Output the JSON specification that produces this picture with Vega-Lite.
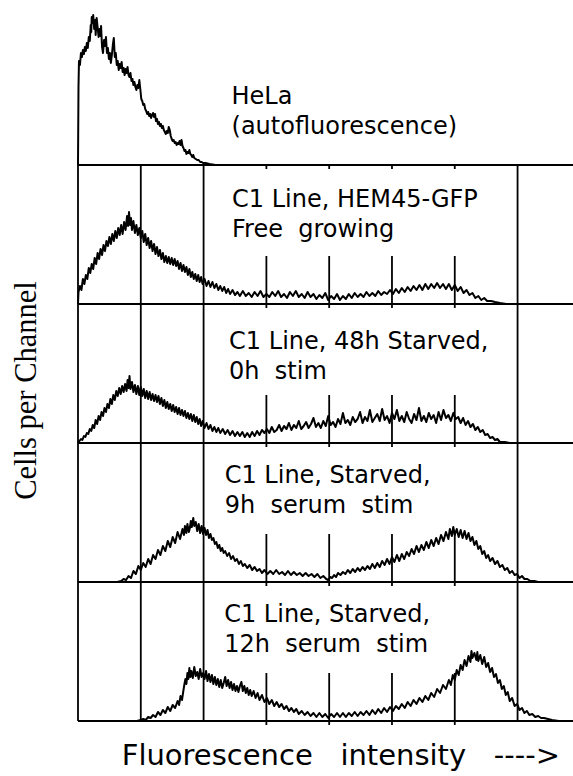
{
"$schema": "https://vega.github.io/schema/vega-lite/v6.json",
"background": "white",
"padding": {"left": 10, "top": 14, "right": 0, "bottom": 0},
"spacing": 0,
"bounds": "flush",
"resolve": {"scale": {"x": "independent", "y": "independent"}},
"config": {"view": {"stroke": null}, "text": {"font": "DejaVu Sans", "fontSize": 24, "color": "black", "align": "left", "baseline": "alphabetic", "lineBreak": "\n", "lineHeight": 30}, "line": {"color": "black", "strokeWidth": 2, "strokeJoin": "round"}, "rule": {"color": "black", "strokeWidth": 1.8}},
"datasets": {
"grid": [{"c":0,"k":"full"},{"c":128,"k":"full"},{"c":256,"k":"full"},{"c":896,"k":"full"},{"c":384,"k":"tick"},{"c":512,"k":"tick"},{"c":640,"k":"tick"},{"c":768,"k":"tick"}],
"h1": [{"c":0,"n":0},{"c":1,"n":78},{"c":2,"n":104},{"c":4,"n":100},{"c":6,"n":112},{"c":8,"n":108},{"c":10,"n":115},{"c":12,"n":111},{"c":14,"n":118},{"c":16,"n":114},{"c":18,"n":122},{"c":20,"n":117},{"c":22,"n":128},{"c":24,"n":124},{"c":26,"n":140},{"c":27,"n":133},{"c":28,"n":148},{"c":30,"n":142},{"c":31,"n":150},{"c":33,"n":136},{"c":35,"n":145},{"c":36,"n":130},{"c":38,"n":147},{"c":40,"n":138},{"c":42,"n":128},{"c":44,"n":136},{"c":46,"n":129},{"c":47,"n":139},{"c":49,"n":118},{"c":51,"n":112},{"c":53,"n":125},{"c":55,"n":119},{"c":57,"n":128},{"c":59,"n":112},{"c":61,"n":117},{"c":63,"n":106},{"c":65,"n":112},{"c":67,"n":102},{"c":69,"n":110},{"c":71,"n":120},{"c":73,"n":127},{"c":75,"n":108},{"c":77,"n":112},{"c":79,"n":100},{"c":81,"n":104},{"c":83,"n":95},{"c":85,"n":101},{"c":87,"n":97},{"c":89,"n":103},{"c":91,"n":93},{"c":93,"n":97},{"c":95,"n":90},{"c":97,"n":96},{"c":99,"n":92},{"c":101,"n":98},{"c":103,"n":90},{"c":105,"n":88},{"c":107,"n":92},{"c":109,"n":84},{"c":111,"n":86},{"c":113,"n":80},{"c":115,"n":83},{"c":117,"n":78},{"c":119,"n":75},{"c":121,"n":80},{"c":123,"n":77},{"c":125,"n":85},{"c":127,"n":76},{"c":129,"n":66},{"c":131,"n":64},{"c":133,"n":60},{"c":135,"n":61},{"c":137,"n":56},{"c":139,"n":54},{"c":141,"n":51},{"c":143,"n":53},{"c":145,"n":49},{"c":147,"n":51},{"c":149,"n":47},{"c":151,"n":50},{"c":153,"n":52},{"c":155,"n":48},{"c":157,"n":51},{"c":159,"n":44},{"c":161,"n":46},{"c":163,"n":41},{"c":165,"n":43},{"c":167,"n":39},{"c":169,"n":41},{"c":171,"n":37},{"c":173,"n":39},{"c":175,"n":35},{"c":177,"n":33},{"c":179,"n":31},{"c":181,"n":34},{"c":183,"n":32},{"c":185,"n":38},{"c":187,"n":35},{"c":189,"n":29},{"c":191,"n":26},{"c":193,"n":24},{"c":195,"n":25},{"c":197,"n":22},{"c":199,"n":23},{"c":201,"n":20},{"c":203,"n":22},{"c":205,"n":21},{"c":207,"n":24},{"c":209,"n":20},{"c":211,"n":25},{"c":213,"n":19},{"c":215,"n":17},{"c":217,"n":14},{"c":219,"n":15},{"c":221,"n":11},{"c":223,"n":13},{"c":225,"n":12},{"c":227,"n":15},{"c":229,"n":11},{"c":231,"n":10},{"c":233,"n":8},{"c":235,"n":10},{"c":237,"n":7},{"c":240,"n":6},{"c":243,"n":5},{"c":246,"n":5},{"c":249,"n":3},{"c":252,"n":3},{"c":255,"n":2},{"c":260,"n":2},{"c":268,"n":1},{"c":280,"n":0}],
"h2": [{"c":0,"n":0},{"c":1,"n":12},{"c":4,"n":18},{"c":7,"n":14},{"c":10,"n":25},{"c":13,"n":20},{"c":16,"n":29},{"c":19,"n":25},{"c":22,"n":36},{"c":25,"n":31},{"c":28,"n":40},{"c":31,"n":35},{"c":34,"n":46},{"c":37,"n":40},{"c":40,"n":51},{"c":43,"n":45},{"c":46,"n":55},{"c":49,"n":49},{"c":52,"n":59},{"c":55,"n":53},{"c":58,"n":63},{"c":61,"n":58},{"c":64,"n":67},{"c":67,"n":60},{"c":70,"n":70},{"c":73,"n":63},{"c":76,"n":73},{"c":79,"n":66},{"c":82,"n":76},{"c":85,"n":69},{"c":88,"n":79},{"c":91,"n":70},{"c":94,"n":82},{"c":97,"n":74},{"c":100,"n":88},{"c":102,"n":78},{"c":104,"n":92},{"c":106,"n":79},{"c":108,"n":86},{"c":110,"n":74},{"c":113,"n":83},{"c":116,"n":71},{"c":119,"n":79},{"c":122,"n":69},{"c":125,"n":76},{"c":128,"n":66},{"c":131,"n":73},{"c":134,"n":62},{"c":137,"n":70},{"c":140,"n":59},{"c":143,"n":66},{"c":146,"n":56},{"c":149,"n":63},{"c":152,"n":53},{"c":155,"n":60},{"c":158,"n":50},{"c":161,"n":57},{"c":164,"n":48},{"c":167,"n":54},{"c":170,"n":45},{"c":173,"n":51},{"c":176,"n":42},{"c":179,"n":48},{"c":182,"n":41},{"c":185,"n":47},{"c":188,"n":40},{"c":191,"n":46},{"c":194,"n":39},{"c":197,"n":45},{"c":200,"n":38},{"c":203,"n":43},{"c":206,"n":35},{"c":209,"n":41},{"c":212,"n":33},{"c":215,"n":39},{"c":218,"n":32},{"c":221,"n":37},{"c":224,"n":29},{"c":227,"n":35},{"c":230,"n":27},{"c":233,"n":32},{"c":236,"n":25},{"c":239,"n":30},{"c":242,"n":23},{"c":245,"n":29},{"c":248,"n":22},{"c":251,"n":27},{"c":254,"n":20},{"c":258,"n":25},{"c":262,"n":18},{"c":266,"n":23},{"c":270,"n":17},{"c":274,"n":22},{"c":278,"n":16},{"c":282,"n":20},{"c":286,"n":14},{"c":290,"n":18},{"c":294,"n":13},{"c":298,"n":17},{"c":302,"n":11},{"c":306,"n":15},{"c":310,"n":10},{"c":315,"n":14},{"c":320,"n":9},{"c":325,"n":12},{"c":330,"n":8},{"c":336,"n":13},{"c":342,"n":8},{"c":348,"n":11},{"c":354,"n":7},{"c":360,"n":12},{"c":366,"n":8},{"c":372,"n":13},{"c":378,"n":7},{"c":384,"n":10},{"c":390,"n":7},{"c":396,"n":12},{"c":402,"n":8},{"c":408,"n":13},{"c":414,"n":7},{"c":420,"n":10},{"c":426,"n":6},{"c":432,"n":12},{"c":438,"n":8},{"c":444,"n":13},{"c":450,"n":7},{"c":456,"n":10},{"c":462,"n":6},{"c":468,"n":12},{"c":474,"n":7},{"c":480,"n":10},{"c":486,"n":5},{"c":492,"n":9},{"c":498,"n":6},{"c":504,"n":11},{"c":510,"n":4},{"c":516,"n":8},{"c":522,"n":5},{"c":528,"n":10},{"c":534,"n":4},{"c":540,"n":8},{"c":546,"n":5},{"c":552,"n":10},{"c":558,"n":6},{"c":564,"n":11},{"c":570,"n":7},{"c":576,"n":10},{"c":582,"n":7},{"c":588,"n":12},{"c":594,"n":8},{"c":600,"n":11},{"c":606,"n":8},{"c":612,"n":13},{"c":618,"n":9},{"c":624,"n":12},{"c":630,"n":10},{"c":636,"n":14},{"c":642,"n":10},{"c":648,"n":15},{"c":654,"n":11},{"c":660,"n":16},{"c":666,"n":12},{"c":672,"n":17},{"c":678,"n":13},{"c":684,"n":18},{"c":690,"n":14},{"c":696,"n":19},{"c":702,"n":14},{"c":708,"n":20},{"c":714,"n":15},{"c":720,"n":20},{"c":726,"n":16},{"c":732,"n":21},{"c":738,"n":16},{"c":744,"n":20},{"c":750,"n":15},{"c":756,"n":20},{"c":762,"n":14},{"c":768,"n":19},{"c":774,"n":13},{"c":780,"n":17},{"c":786,"n":11},{"c":792,"n":14},{"c":798,"n":9},{"c":804,"n":11},{"c":810,"n":6},{"c":816,"n":8},{"c":822,"n":4},{"c":828,"n":6},{"c":834,"n":3},{"c":842,"n":3},{"c":850,"n":2},{"c":860,"n":1},{"c":873,"n":0}],
"h3": [{"c":0,"n":0},{"c":3,"n":2},{"c":6,"n":4},{"c":9,"n":3},{"c":12,"n":7},{"c":15,"n":6},{"c":18,"n":10},{"c":21,"n":9},{"c":24,"n":14},{"c":27,"n":12},{"c":30,"n":18},{"c":33,"n":15},{"c":36,"n":23},{"c":39,"n":19},{"c":42,"n":27},{"c":45,"n":23},{"c":48,"n":31},{"c":51,"n":27},{"c":54,"n":35},{"c":57,"n":31},{"c":60,"n":39},{"c":63,"n":35},{"c":66,"n":44},{"c":69,"n":39},{"c":72,"n":48},{"c":75,"n":43},{"c":78,"n":52},{"c":81,"n":47},{"c":84,"n":55},{"c":87,"n":49},{"c":90,"n":57},{"c":93,"n":51},{"c":96,"n":59},{"c":99,"n":52},{"c":101,"n":63},{"c":103,"n":55},{"c":105,"n":67},{"c":107,"n":54},{"c":110,"n":61},{"c":113,"n":51},{"c":116,"n":58},{"c":119,"n":49},{"c":122,"n":57},{"c":125,"n":48},{"c":128,"n":56},{"c":131,"n":47},{"c":134,"n":54},{"c":137,"n":45},{"c":140,"n":52},{"c":143,"n":44},{"c":146,"n":51},{"c":149,"n":43},{"c":152,"n":49},{"c":155,"n":42},{"c":158,"n":48},{"c":161,"n":41},{"c":164,"n":47},{"c":167,"n":39},{"c":170,"n":45},{"c":173,"n":37},{"c":176,"n":43},{"c":179,"n":35},{"c":182,"n":41},{"c":185,"n":34},{"c":188,"n":39},{"c":191,"n":32},{"c":194,"n":38},{"c":197,"n":31},{"c":200,"n":36},{"c":203,"n":29},{"c":206,"n":35},{"c":209,"n":28},{"c":212,"n":33},{"c":215,"n":27},{"c":218,"n":32},{"c":221,"n":25},{"c":224,"n":30},{"c":227,"n":24},{"c":230,"n":29},{"c":233,"n":22},{"c":236,"n":28},{"c":239,"n":21},{"c":242,"n":26},{"c":245,"n":19},{"c":248,"n":24},{"c":251,"n":17},{"c":254,"n":22},{"c":258,"n":15},{"c":262,"n":20},{"c":266,"n":14},{"c":270,"n":18},{"c":274,"n":12},{"c":278,"n":16},{"c":282,"n":11},{"c":286,"n":15},{"c":290,"n":10},{"c":295,"n":14},{"c":300,"n":9},{"c":305,"n":13},{"c":310,"n":8},{"c":315,"n":12},{"c":320,"n":7},{"c":325,"n":11},{"c":330,"n":7},{"c":335,"n":11},{"c":340,"n":6},{"c":345,"n":10},{"c":350,"n":6},{"c":355,"n":11},{"c":360,"n":7},{"c":365,"n":12},{"c":370,"n":8},{"c":375,"n":13},{"c":380,"n":10},{"c":385,"n":14},{"c":390,"n":10},{"c":395,"n":16},{"c":400,"n":11},{"c":405,"n":13},{"c":410,"n":18},{"c":415,"n":12},{"c":420,"n":17},{"c":425,"n":14},{"c":430,"n":20},{"c":435,"n":13},{"c":440,"n":18},{"c":445,"n":15},{"c":450,"n":22},{"c":455,"n":14},{"c":460,"n":17},{"c":465,"n":21},{"c":470,"n":15},{"c":475,"n":19},{"c":480,"n":25},{"c":485,"n":16},{"c":490,"n":20},{"c":495,"n":15},{"c":500,"n":22},{"c":505,"n":17},{"c":510,"n":27},{"c":515,"n":18},{"c":520,"n":21},{"c":525,"n":16},{"c":530,"n":24},{"c":535,"n":19},{"c":540,"n":30},{"c":545,"n":20},{"c":550,"n":23},{"c":555,"n":18},{"c":560,"n":26},{"c":565,"n":21},{"c":570,"n":24},{"c":575,"n":31},{"c":580,"n":20},{"c":585,"n":26},{"c":590,"n":22},{"c":595,"n":33},{"c":600,"n":21},{"c":605,"n":25},{"c":610,"n":29},{"c":615,"n":22},{"c":620,"n":34},{"c":625,"n":23},{"c":630,"n":27},{"c":635,"n":20},{"c":640,"n":30},{"c":645,"n":24},{"c":650,"n":33},{"c":655,"n":22},{"c":660,"n":27},{"c":665,"n":21},{"c":670,"n":31},{"c":675,"n":24},{"c":680,"n":20},{"c":685,"n":29},{"c":690,"n":23},{"c":695,"n":35},{"c":700,"n":22},{"c":705,"n":27},{"c":710,"n":21},{"c":715,"n":30},{"c":720,"n":24},{"c":725,"n":28},{"c":730,"n":20},{"c":735,"n":31},{"c":740,"n":23},{"c":745,"n":33},{"c":750,"n":25},{"c":755,"n":28},{"c":760,"n":22},{"c":765,"n":30},{"c":770,"n":24},{"c":775,"n":26},{"c":780,"n":20},{"c":785,"n":25},{"c":790,"n":18},{"c":795,"n":22},{"c":800,"n":16},{"c":805,"n":19},{"c":810,"n":13},{"c":815,"n":16},{"c":820,"n":11},{"c":825,"n":13},{"c":830,"n":8},{"c":835,"n":9},{"c":840,"n":5},{"c":845,"n":6},{"c":850,"n":3},{"c":855,"n":4},{"c":860,"n":1},{"c":870,"n":1},{"c":880,"n":0}],
"h4": [{"c":80,"n":0},{"c":88,"n":1},{"c":93,"n":3},{"c":98,"n":2},{"c":103,"n":6},{"c":108,"n":4},{"c":113,"n":11},{"c":118,"n":8},{"c":123,"n":16},{"c":128,"n":12},{"c":133,"n":19},{"c":138,"n":15},{"c":143,"n":23},{"c":148,"n":18},{"c":153,"n":27},{"c":158,"n":23},{"c":163,"n":32},{"c":168,"n":27},{"c":173,"n":36},{"c":178,"n":31},{"c":183,"n":41},{"c":188,"n":35},{"c":193,"n":45},{"c":198,"n":39},{"c":203,"n":50},{"c":208,"n":43},{"c":213,"n":53},{"c":216,"n":47},{"c":218,"n":56},{"c":221,"n":49},{"c":223,"n":58},{"c":226,"n":50},{"c":228,"n":54},{"c":230,"n":61},{"c":232,"n":55},{"c":235,"n":64},{"c":237,"n":56},{"c":240,"n":60},{"c":243,"n":51},{"c":246,"n":58},{"c":249,"n":49},{"c":252,"n":56},{"c":255,"n":48},{"c":258,"n":54},{"c":261,"n":47},{"c":264,"n":52},{"c":267,"n":44},{"c":270,"n":48},{"c":273,"n":42},{"c":276,"n":44},{"c":279,"n":38},{"c":282,"n":40},{"c":285,"n":34},{"c":288,"n":37},{"c":291,"n":31},{"c":294,"n":34},{"c":297,"n":29},{"c":300,"n":31},{"c":304,"n":26},{"c":308,"n":29},{"c":312,"n":23},{"c":316,"n":26},{"c":320,"n":21},{"c":324,"n":23},{"c":328,"n":18},{"c":332,"n":21},{"c":336,"n":16},{"c":340,"n":18},{"c":345,"n":14},{"c":350,"n":17},{"c":355,"n":12},{"c":360,"n":15},{"c":365,"n":11},{"c":370,"n":13},{"c":375,"n":9},{"c":380,"n":12},{"c":386,"n":8},{"c":392,"n":11},{"c":398,"n":8},{"c":404,"n":12},{"c":410,"n":8},{"c":416,"n":10},{"c":422,"n":7},{"c":428,"n":11},{"c":434,"n":7},{"c":440,"n":10},{"c":446,"n":7},{"c":452,"n":9},{"c":458,"n":6},{"c":464,"n":9},{"c":470,"n":6},{"c":476,"n":8},{"c":482,"n":5},{"c":488,"n":8},{"c":494,"n":4},{"c":500,"n":6},{"c":506,"n":3},{"c":510,"n":2},{"c":514,"n":5},{"c":518,"n":4},{"c":522,"n":7},{"c":526,"n":5},{"c":530,"n":9},{"c":535,"n":7},{"c":540,"n":10},{"c":545,"n":8},{"c":550,"n":12},{"c":555,"n":9},{"c":560,"n":13},{"c":565,"n":10},{"c":570,"n":14},{"c":575,"n":11},{"c":580,"n":15},{"c":585,"n":12},{"c":590,"n":16},{"c":595,"n":13},{"c":600,"n":18},{"c":605,"n":14},{"c":610,"n":19},{"c":615,"n":15},{"c":620,"n":21},{"c":625,"n":17},{"c":630,"n":23},{"c":635,"n":18},{"c":640,"n":25},{"c":645,"n":20},{"c":650,"n":27},{"c":655,"n":21},{"c":660,"n":28},{"c":665,"n":23},{"c":670,"n":30},{"c":675,"n":26},{"c":680,"n":33},{"c":685,"n":28},{"c":690,"n":36},{"c":695,"n":30},{"c":700,"n":37},{"c":705,"n":32},{"c":710,"n":40},{"c":715,"n":34},{"c":720,"n":42},{"c":725,"n":36},{"c":730,"n":44},{"c":735,"n":38},{"c":740,"n":47},{"c":745,"n":41},{"c":750,"n":50},{"c":755,"n":43},{"c":758,"n":53},{"c":762,"n":46},{"c":765,"n":55},{"c":768,"n":47},{"c":772,"n":53},{"c":776,"n":45},{"c":780,"n":52},{"c":784,"n":44},{"c":788,"n":51},{"c":792,"n":43},{"c":796,"n":49},{"c":800,"n":41},{"c":804,"n":45},{"c":808,"n":37},{"c":812,"n":41},{"c":816,"n":33},{"c":820,"n":36},{"c":824,"n":28},{"c":828,"n":31},{"c":832,"n":24},{"c":836,"n":27},{"c":840,"n":21},{"c":845,"n":24},{"c":850,"n":18},{"c":855,"n":21},{"c":860,"n":15},{"c":865,"n":17},{"c":870,"n":12},{"c":875,"n":14},{"c":880,"n":9},{"c":885,"n":11},{"c":890,"n":7},{"c":895,"n":8},{"c":900,"n":4},{"c":905,"n":6},{"c":910,"n":3},{"c":916,"n":3},{"c":922,"n":1},{"c":930,"n":1},{"c":938,"n":0}],
"h5": [{"c":120,"n":0},{"c":128,"n":1},{"c":133,"n":2},{"c":138,"n":1},{"c":143,"n":4},{"c":148,"n":3},{"c":153,"n":6},{"c":158,"n":4},{"c":163,"n":9},{"c":168,"n":6},{"c":173,"n":11},{"c":178,"n":8},{"c":183,"n":14},{"c":188,"n":10},{"c":193,"n":16},{"c":198,"n":13},{"c":203,"n":20},{"c":206,"n":16},{"c":209,"n":25},{"c":212,"n":21},{"c":215,"n":31},{"c":217,"n":37},{"c":219,"n":42},{"c":221,"n":37},{"c":223,"n":48},{"c":225,"n":42},{"c":227,"n":53},{"c":229,"n":44},{"c":231,"n":50},{"c":234,"n":43},{"c":237,"n":54},{"c":240,"n":45},{"c":243,"n":49},{"c":246,"n":42},{"c":249,"n":52},{"c":252,"n":44},{"c":255,"n":48},{"c":258,"n":42},{"c":261,"n":50},{"c":264,"n":40},{"c":267,"n":47},{"c":270,"n":39},{"c":273,"n":46},{"c":276,"n":37},{"c":279,"n":44},{"c":282,"n":36},{"c":285,"n":42},{"c":288,"n":34},{"c":291,"n":41},{"c":294,"n":33},{"c":297,"n":38},{"c":300,"n":44},{"c":303,"n":35},{"c":306,"n":41},{"c":309,"n":33},{"c":312,"n":39},{"c":315,"n":31},{"c":318,"n":37},{"c":321,"n":30},{"c":324,"n":35},{"c":327,"n":29},{"c":330,"n":35},{"c":333,"n":39},{"c":336,"n":30},{"c":339,"n":35},{"c":342,"n":28},{"c":345,"n":33},{"c":348,"n":26},{"c":351,"n":31},{"c":354,"n":25},{"c":358,"n":30},{"c":362,"n":23},{"c":366,"n":28},{"c":370,"n":21},{"c":375,"n":26},{"c":380,"n":19},{"c":385,"n":23},{"c":390,"n":17},{"c":395,"n":21},{"c":400,"n":15},{"c":405,"n":19},{"c":410,"n":14},{"c":415,"n":17},{"c":420,"n":12},{"c":425,"n":15},{"c":430,"n":10},{"c":435,"n":13},{"c":440,"n":9},{"c":445,"n":12},{"c":450,"n":7},{"c":456,"n":10},{"c":462,"n":6},{"c":468,"n":9},{"c":474,"n":5},{"c":480,"n":8},{"c":486,"n":4},{"c":492,"n":8},{"c":498,"n":4},{"c":504,"n":7},{"c":510,"n":3},{"c":516,"n":7},{"c":522,"n":4},{"c":528,"n":8},{"c":534,"n":4},{"c":540,"n":8},{"c":546,"n":4},{"c":552,"n":8},{"c":558,"n":5},{"c":564,"n":9},{"c":570,"n":5},{"c":576,"n":9},{"c":582,"n":6},{"c":588,"n":10},{"c":594,"n":6},{"c":600,"n":11},{"c":606,"n":7},{"c":612,"n":12},{"c":618,"n":8},{"c":624,"n":13},{"c":630,"n":9},{"c":636,"n":14},{"c":642,"n":10},{"c":648,"n":15},{"c":654,"n":12},{"c":660,"n":17},{"c":666,"n":13},{"c":672,"n":19},{"c":678,"n":15},{"c":684,"n":21},{"c":690,"n":17},{"c":696,"n":23},{"c":702,"n":19},{"c":708,"n":25},{"c":714,"n":21},{"c":720,"n":28},{"c":726,"n":24},{"c":732,"n":32},{"c":738,"n":28},{"c":744,"n":36},{"c":750,"n":32},{"c":756,"n":41},{"c":760,"n":36},{"c":764,"n":46},{"c":768,"n":41},{"c":772,"n":51},{"c":776,"n":46},{"c":780,"n":56},{"c":784,"n":51},{"c":788,"n":61},{"c":792,"n":55},{"c":796,"n":65},{"c":800,"n":59},{"c":802,"n":70},{"c":804,"n":63},{"c":808,"n":68},{"c":812,"n":61},{"c":814,"n":69},{"c":816,"n":60},{"c":820,"n":66},{"c":824,"n":57},{"c":828,"n":64},{"c":832,"n":54},{"c":836,"n":58},{"c":840,"n":49},{"c":844,"n":53},{"c":848,"n":44},{"c":852,"n":47},{"c":856,"n":38},{"c":860,"n":41},{"c":864,"n":32},{"c":868,"n":35},{"c":872,"n":26},{"c":876,"n":29},{"c":880,"n":20},{"c":885,"n":23},{"c":890,"n":15},{"c":895,"n":17},{"c":900,"n":11},{"c":905,"n":13},{"c":910,"n":8},{"c":915,"n":10},{"c":920,"n":6},{"c":926,"n":7},{"c":932,"n":4},{"c":938,"n":5},{"c":944,"n":3},{"c":950,"n":3},{"c":958,"n":2},{"c":966,"n":1},{"c":980,"n":0}]
},
"vconcat": [
{"width": 495, "height": 139, "layer": [
 {"data": {"name": "h1"}, "mark": "line", "encoding": {"x": {"field": "c", "type": "quantitative", "scale": {"domain": [0, 1009], "nice": false}, "axis": null}, "y": {"field": "n", "type": "quantitative", "scale": {"domain": [0, 139], "nice": false}, "axis": null}}},
 {"data": {"name": "grid"}, "transform": [{"filter": "datum.k == 'tick'"}], "mark": "rule", "encoding": {"x": {"field": "c", "type": "quantitative", "axis": null}, "y": {"datum": -4, "axis": null}, "y2": {"datum": 0}}},
 {"data": {"values": [{}]}, "mark": "rule", "encoding": {"y": {"datum": 0, "axis": null}, "x": {"datum": 0, "axis": null}, "x2": {"datum": 1009}}},
 {"data": {"values": [{"t": "HeLa\n(autofluorescence)"}]}, "mark": "text", "encoding": {"x": {"datum": 313, "axis": null}, "y": {"datum": 61, "axis": null}, "text": {"field": "t"}}}
]},
{"width": 495, "height": 139, "layer": [
 {"data": {"name": "h2"}, "mark": "line", "encoding": {"x": {"field": "c", "type": "quantitative", "scale": {"domain": [0, 1009], "nice": false}, "axis": null}, "y": {"field": "n", "type": "quantitative", "scale": {"domain": [0, 139], "nice": false}, "axis": null}}},
 {"data": {"name": "grid"}, "transform": [{"filter": "datum.k == 'full'"}], "mark": "rule", "encoding": {"x": {"field": "c", "type": "quantitative", "axis": null}, "y": {"datum": 0, "axis": null}, "y2": {"datum": 139}}},
 {"data": {"name": "grid"}, "transform": [{"filter": "datum.k == 'tick'"}], "mark": "rule", "encoding": {"x": {"field": "c", "type": "quantitative", "axis": null}, "y": {"datum": -4, "axis": null}, "y2": {"datum": 48}}},
 {"data": {"values": [{}]}, "mark": "rule", "encoding": {"y": {"datum": 0, "axis": null}, "x": {"datum": 0, "axis": null}, "x2": {"datum": 1009}}},
 {"data": {"values": [{"t": "C1 Line, HEM45-GFP\nFree\u00a0 growing"}]}, "mark": "text", "encoding": {"x": {"datum": 314, "axis": null}, "y": {"datum": 97, "axis": null}, "text": {"field": "t"}}}
]},
{"width": 495, "height": 139, "layer": [
 {"data": {"name": "h3"}, "mark": "line", "encoding": {"x": {"field": "c", "type": "quantitative", "scale": {"domain": [0, 1009], "nice": false}, "axis": null}, "y": {"field": "n", "type": "quantitative", "scale": {"domain": [0, 139], "nice": false}, "axis": {"title": "Cells per Channel", "labels": false, "ticks": false, "domain": false, "grid": false, "titleFont": "Liberation Serif", "titleFontSize": 30.5, "titleFontWeight": "normal", "titleColor": "black", "titleAngle": 270, "titleAlign": "center", "titleBaseline": "alphabetic", "titleX": -43, "titleY": 86}}}},
 {"data": {"name": "grid"}, "transform": [{"filter": "datum.k == 'full'"}], "mark": "rule", "encoding": {"x": {"field": "c", "type": "quantitative", "axis": null}, "y": {"datum": 0}, "y2": {"datum": 139}}},
 {"data": {"name": "grid"}, "transform": [{"filter": "datum.k == 'tick'"}], "mark": "rule", "encoding": {"x": {"field": "c", "type": "quantitative", "axis": null}, "y": {"datum": -4}, "y2": {"datum": 48}}},
 {"data": {"values": [{}]}, "mark": "rule", "encoding": {"y": {"datum": 0}, "x": {"datum": 0, "axis": null}, "x2": {"datum": 1009}}},
 {"data": {"values": [{"t": "C1 Line, 48h Starved,\n0h\u00a0 stim"}]}, "mark": "text", "encoding": {"x": {"datum": 308, "axis": null}, "y": {"datum": 94}, "text": {"field": "t"}}}
]},
{"width": 495, "height": 139, "layer": [
 {"data": {"name": "h4"}, "mark": "line", "encoding": {"x": {"field": "c", "type": "quantitative", "scale": {"domain": [0, 1009], "nice": false}, "axis": null}, "y": {"field": "n", "type": "quantitative", "scale": {"domain": [0, 139], "nice": false}, "axis": null}}},
 {"data": {"name": "grid"}, "transform": [{"filter": "datum.k == 'full'"}], "mark": "rule", "encoding": {"x": {"field": "c", "type": "quantitative", "axis": null}, "y": {"datum": 0, "axis": null}, "y2": {"datum": 139}}},
 {"data": {"name": "grid"}, "transform": [{"filter": "datum.k == 'tick'"}], "mark": "rule", "encoding": {"x": {"field": "c", "type": "quantitative", "axis": null}, "y": {"datum": -4, "axis": null}, "y2": {"datum": 48}}},
 {"data": {"values": [{}]}, "mark": "rule", "encoding": {"y": {"datum": 0, "axis": null}, "x": {"datum": 0, "axis": null}, "x2": {"datum": 1009}}},
 {"data": {"values": [{"t": "\u00a0C1 Line, Starved,\n9h\u00a0 serum\u00a0 stim"}]}, "mark": "text", "encoding": {"x": {"datum": 299, "axis": null}, "y": {"datum": 99, "axis": null}, "text": {"field": "t"}}}
]},
{"width": 495, "height": 139, "layer": [
 {"data": {"name": "h5"}, "mark": "line", "encoding": {"x": {"field": "c", "type": "quantitative", "scale": {"domain": [0, 1009], "nice": false}, "axis": {"title": "Fluorescence\u00a0\u00a0 intensity\u00a0\u00a0 ---->", "labels": false, "ticks": false, "domain": false, "grid": false, "titleFont": "DejaVu Sans", "titleFontSize": 29, "titleFontWeight": "normal", "titleColor": "black", "titleAlign": "left", "titleBaseline": "alphabetic", "titleX": 43.2, "titleY": 43.3}}, "y": {"field": "n", "type": "quantitative", "scale": {"domain": [0, 139], "nice": false}, "axis": null}}},
 {"data": {"name": "grid"}, "transform": [{"filter": "datum.k == 'full'"}], "mark": "rule", "encoding": {"x": {"field": "c", "type": "quantitative"}, "y": {"datum": 0, "axis": null}, "y2": {"datum": 139}}},
 {"data": {"name": "grid"}, "transform": [{"filter": "datum.k == 'tick'"}], "mark": "rule", "encoding": {"x": {"field": "c", "type": "quantitative"}, "y": {"datum": -4, "axis": null}, "y2": {"datum": 48}}},
 {"data": {"values": [{}]}, "mark": "rule", "encoding": {"y": {"datum": 0, "axis": null}, "x": {"datum": 0}, "x2": {"datum": 1009}}},
 {"data": {"values": [{"t": "C1 Line, Starved,\n12h\u00a0 serum\u00a0 stim"}]}, "mark": "text", "encoding": {"x": {"datum": 298}, "y": {"datum": 99, "axis": null}, "text": {"field": "t"}}}
]}
]
}
